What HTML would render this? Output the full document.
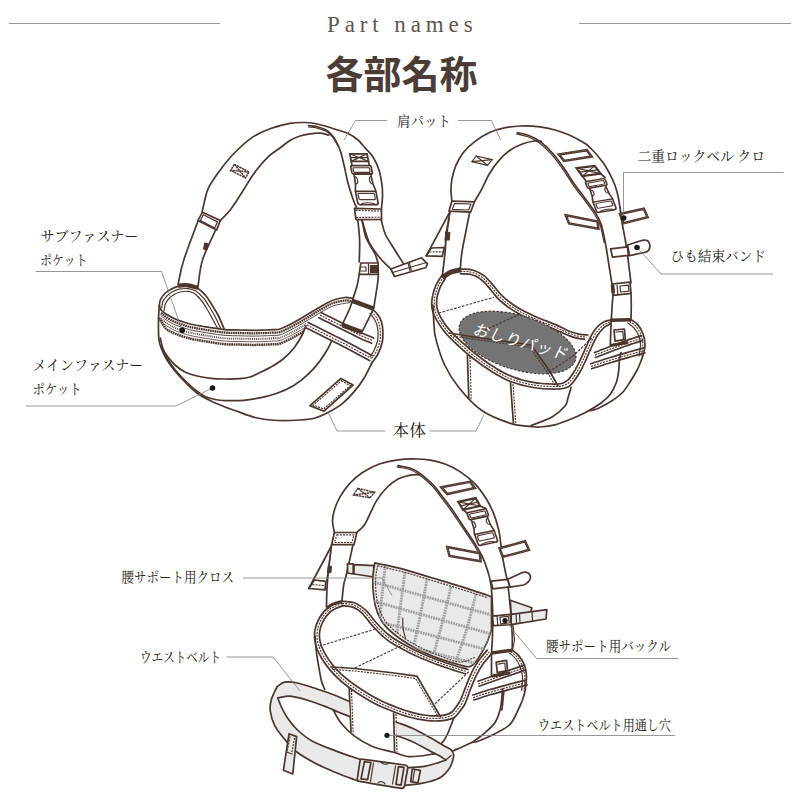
<!DOCTYPE html>
<html><head><meta charset="utf-8"><title>Part names</title>
<style>
html,body{margin:0;padding:0;background:#fff;font-family:"Liberation Sans",sans-serif;}
svg{display:block}
</style></head><body>
<svg width="800" height="801" viewBox="0 0 800 801">
<rect width="800" height="801" fill="#fff"/>
<style>
.l{fill:none;stroke:#4b352d;stroke-width:1.7;stroke-linecap:round;stroke-linejoin:round}
.t{fill:none;stroke:#4b352d;stroke-width:1.2;stroke-linecap:round;stroke-linejoin:round}
.w{fill:#fff;stroke:#4b352d;stroke-width:1.7;stroke-linecap:round;stroke-linejoin:round}
.g{fill:#e9e9e9;stroke:#4b352d;stroke-width:1.7;stroke-linecap:round;stroke-linejoin:round}
.d{fill:none;stroke:#4b352d;stroke-width:1.15;stroke-dasharray:2 1.1}
.k{fill:none;stroke:#4b352d;stroke-width:2.6;stroke-linecap:butt}
.q{fill:none;stroke:#a0a0a0;stroke-width:2.9;stroke-dasharray:1.8 0.8}
</style>
<g><path class="l" d="M202.1 212.2C202.9 208.8 203.4 205.8 204.4 201.9C205.4 198 205.9 193.4 208.1 188.8C210.3 184.1 213.4 179.4 217.5 173.8C221.6 168.1 226.9 160.9 232.5 155C238.1 149.1 245 142.5 251.2 138.1C257.5 133.7 263.5 131.2 270 128.8C276.5 126.3 284.2 124.3 290 123.3C295.8 122.3 300.8 122.5 305 122.5C309.2 122.5 311.7 122.9 315 123.5C318.3 124.1 321.5 125 325 126C328.5 127 332.2 128.2 336 129.5C339.8 130.8 344.3 131.8 348 133.5C351.7 135.2 355 137.4 358 140C361 142.6 363.5 146.2 366 149C368.5 151.8 370.8 153.5 373 157C375.2 160.5 377.5 165.3 379 170C380.5 174.7 381.4 180.5 382 185C382.6 189.5 382.6 193.2 382.5 197C382.4 200.8 381.8 204.3 381.5 208"/>
<path class="l" d="M220.3 220.6C223.7 216.9 227 214.1 230.6 209.4C234.2 204.7 237.8 198.8 241.9 192.5C246 186.2 250.6 177.8 255 171.9C259.4 166 263.9 160.9 268.1 156.9C272.3 152.9 276.4 150.7 280 148C283.6 145.3 286.7 142.5 290 140.5C293.3 138.5 296.7 137.1 300 136C303.3 134.9 306.7 134.3 310 133.8C313.3 133.3 316.8 133 320 133.2C323.2 133.4 326 134.4 329 135"/>
<path class="l" d="M308.5 125.5C311.7 126 315.2 126.3 318 127C320.8 127.7 323 128.5 325 129.5C327 130.5 328.5 131.6 330 133C331.5 134.4 332.7 136 334 138C335.3 140 336.8 142.5 338 145C339.2 147.5 340 149.7 341 153C342 156.3 342.8 160 344 165C345.2 170 346.5 177.3 348 183C349.5 188.7 351.6 194.9 353 199C354.4 203.1 355.3 204.7 356.5 207.5"/>
<path class="t" d="M308.7 126.8C311.9 127.3 315.4 127.6 318.2 128.3C320.9 129 323.2 129.8 325.2 130.8C327.2 131.8 328.7 132.9 330.2 134.3C331.7 135.7 332.9 137.3 334.2 139.3C335.5 141.3 337.6 145.4 338.2 146.3C338.8 147.2 338.1 145.4 338 145"/>
<path class="l" d="M197.8 220.6L202.5 212.2L220.3 220.6L216.6 230Z"/>
<path class="t" d="M200.3 220.6L203.4 214.7L217.5 221.9L214.7 228.1Z"/>
<path class="l" d="M197.8 221.5C193.1 234.3 187.1 249.5 183.8 260C180.4 270.5 179.9 276.5 178 284.7"/>
<path class="l" d="M215.6 230C211.2 240 205.5 250.4 202.5 260C199.5 269.6 199.4 278.3 197.8 287.5"/>
<path class="t" style="fill:#4b352d" d="M204.8 243L207.8 243.8L206.6 249.8L203.6 249Z"/>
<path class="d" style="stroke-width:1.5;stroke-dasharray:2.2 0.6" d="M234.4 164.4L249 171.9L245.6 177.9L230.6 170.4Z"/>
<path class="d" style="stroke-width:1.5;stroke-dasharray:2.2 0.6" d="M234.4 164.4L245.6 177.9"/>
<path class="d" style="stroke-width:1.5;stroke-dasharray:2.2 0.6" d="M249 171.9L230.6 170.4"/>
<g transform="translate(358.3 153.3) rotate(0) skewX(11) scale(0.99 0.99)"><path class="k" style="stroke-width:1.8" d="M-8.7 0.5H8.7V8.2H-8.7Z"/><path class="t" d="M-8.7 0.5L8.7 8.2M8.7 0.5L-8.7 8.2M-8.7 4.3H8.7"/><path class="l" d="M-8.7 8.2V13M8.7 8.2V13"/><rect class="w" x="-10.3" y="12.5" width="20.6" height="8.6" rx="1.6"/><rect class="t" x="-8.3" y="14.6" width="16.6" height="4.6" rx="0.8"/><path class="w" d="M-8.6 21.1C-8.2 24 -8.8 27 -8.8 30C-8.8 34 -10.3 35 -10.3 38.5V49.5C-10.3 51 -9.5 52 -8 52H8C9.5 52 10.3 51 10.3 49.5V38.5C10.3 35 8.8 34 8.8 30C8.8 27 8.2 24 8.6 21.1Z"/><path class="t" d="M-8.6 23.5C-6.5 23.5 -6 25 -6 27.5C-6 30 -6.8 31 -8.8 31M8.6 23.5C6.5 23.5 6 25 6 27.5C6 30 6.8 31 8.8 31"/><path class="l" d="M-10.3 38.5H10.3"/><rect class="t" x="-8.2" y="40.6" width="16.4" height="6.2" rx="0.8"/><path class="t" d="M-8 52C-5 49.3 5 49.3 8 52"/></g>
<path class="w" d="M354.5 208.3L381.5 209L381.5 219.3L356 219.7Z"/>
<path class="d" d="M355.5 210.4L381 211"/>
<path class="d" d="M356 217.5L381 217.2"/>
<path class="l" d="M357.8 219.7C358.4 226.5 359.4 232.9 359.6 240C359.9 247.1 359.4 254.7 359.2 262"/>
<path class="l" d="M359.2 274.5C358.5 278.3 358 282 357 286C356 290 354.3 294.5 353 298.8"/>
<path class="l" d="M362 220C363.3 225.8 363.8 231.8 366 237.5C368.2 243.2 373 249.8 375 254C377 258.2 377 260 378 263"/>
<path class="l" d="M378.3 274.5C378 277.7 378.3 278.4 377.5 284C376.7 289.6 375 300 373.8 308"/>
<path class="l" d="M362 220C364.3 227.3 366 235.7 369 242C372 248.3 376.4 253.5 380 258C383.6 262.5 387.2 265.3 390.8 269"/>
<path class="l" d="M381 219.3C382.5 224.4 383.2 229.5 385.5 234.5C387.8 239.5 391.6 244.7 394.5 249.5C397.4 254.3 400.3 258.6 403.2 263.2"/>
<path class="l" d="M390.8 269L421.5 257.8L427.5 263.8L426 267.5L394.5 276.5Z"/>
<path class="t" d="M408 263L410 270.8"/>
<path class="t" d="M409.3 262.6L411.3 270.3"/>
<path class="t" d="M392.5 272.5L409.5 267.5"/>
<path class="t" d="M411 267L426.8 262.5"/>
<path class="w" d="M360.8 263L378 263L378.3 274.3L359.2 274.3Z"/>
<path class="t" d="M361.5 267L366 267L366 271L361 271"/>
<path class="t" d="M368.5 264L368.5 274"/>
<path class="t" style="fill:#4b352d" d="M370.5 265.5L377.5 265.5L377.5 272.5L370.5 272.5Z"/><path class="l" d="M159.3 305.5C159.7 303.5 159.6 301.5 160.5 299.5C161.4 297.5 163.3 295.2 165 293.5C166.7 291.8 168.3 290.7 170.5 289.5C172.7 288.3 175.1 286.9 178 286.3C180.9 285.7 184.7 285.4 188 285.8C191.3 286.2 194.8 286.8 197.8 288.5C200.8 290.2 203.6 293.2 206 296C208.4 298.8 210 301.8 212 305C214 308.2 216 311.1 218 315C220 318.9 222 324 224 328.5"/>
<path class="t" d="M161.6 308C162.1 305.8 162.1 303.3 163 301.3C163.9 299.3 165.4 297.4 167 295.8C168.6 294.2 170.5 292.9 172.5 291.8C174.5 290.7 176.4 289.7 179 289.2C181.6 288.7 185.2 288.3 188 288.6C190.8 288.9 193.2 289.4 195.8 291C198.4 292.6 201.2 295.3 203.5 298C205.8 300.7 207.6 303.9 209.5 307C211.4 310.1 213.2 313 215 316.5C216.8 320 218.7 324.2 220.5 328"/>
<path class="t" d="M164 311C164.5 308.5 164.6 305.7 165.5 303.5C166.4 301.3 168 299.5 169.5 298C171 296.5 172.8 295.3 174.5 294.3C176.2 293.3 177.8 292.5 180 292C182.2 291.5 185.7 291.1 188 291.3C190.3 291.5 191.8 291.9 194 293.3C196.2 294.8 198.8 297.4 201 300C203.2 302.6 205.2 306 207 309C208.8 312 210.3 314.9 212 318C213.7 321.1 215.5 324.5 217.2 327.7"/>
<path class="k" style="stroke-width:4.2" d="M178.3 285.6C181.5 285.5 184.7 284.9 188 285.3C191.3 285.7 194.7 287.1 198 288"/>
<path class="l" d="M159.3 305.5C159.9 307 159.9 308.6 161 310C162.1 311.4 163.7 312.5 166 314C168.3 315.5 171.8 317.6 175 319C178.2 320.4 181.7 321.5 185 322.5C188.3 323.5 190.8 324.2 195 325C199.2 325.8 205 326.7 210 327.5C215 328.3 220 329.2 225 329.6C230 330 235.3 329.9 240 330C244.7 330.1 248.8 330.3 253 330.3C257.2 330.3 261.7 330.1 265 330C268.3 329.9 270.5 329.8 273 329.6C275.5 329.4 277.2 329.9 280 329C282.8 328.1 286.7 326.2 290 324.5C293.3 322.8 296.7 320.9 300 319C303.3 317.1 306.7 315 310 313C313.3 311 317 308.8 320 307C323 305.2 325.5 303.8 328 302.5C330.5 301.2 332.2 300.3 335 299.5C337.8 298.7 342.1 297.7 345 297.5C347.9 297.3 350 298 352.5 298.2"/>
<path class="k" style="stroke-width:2.3;stroke-dasharray:1.7 0.6" d="M161 313C162.7 314.3 163.7 315.5 166 317C168.3 318.5 171.8 320.6 175 322C178.2 323.4 181.7 324.5 185 325.5C188.3 326.5 190.8 327.2 195 328C199.2 328.8 205 329.7 210 330.5C215 331.3 220 332.2 225 332.6C230 333 235.3 332.9 240 333C244.7 333.1 248.8 333.3 253 333.3C257.2 333.3 261.7 333.1 265 333C268.3 332.9 270.5 332.8 273 332.6C275.5 332.4 277.2 332.9 280 332C282.8 331.1 286.7 329.2 290 327.5C293.3 325.8 296.7 323.9 300 322C303.3 320.1 306.7 318 310 316C313.3 314 317 311.8 320 310C323 308.2 325.5 306.8 328 305.5C330.5 304.2 332.2 303.3 335 302.5C337.8 301.7 342.1 300.7 345 300.5C347.9 300.3 350 301 352.5 301.2"/>
<path class="t" style="stroke-width:0.9" d="M161 315.8C162.7 317.1 163.7 318.3 166 319.8C168.3 321.3 171.8 323.4 175 324.8C178.2 326.2 181.7 327.3 185 328.3C188.3 329.3 190.8 330 195 330.8C199.2 331.6 205 332.5 210 333.3C215 334.1 220 335 225 335.4C230 335.8 235.3 335.7 240 335.8C244.7 335.9 248.8 336.1 253 336.1C257.2 336.1 261.7 335.9 265 335.8C268.3 335.7 270.5 335.6 273 335.4C275.5 335.2 277.2 335.7 280 334.8C282.8 333.9 286.7 332 290 330.3C293.3 328.6 296.7 326.7 300 324.8C303.3 322.9 306.7 320.8 310 318.8C313.3 316.8 317 314.6 320 312.8C323 311.1 325.5 309.6 328 308.3C330.5 307.1 332.2 306.1 335 305.3C337.8 304.5 342.5 303.8 345 303.3C347.5 302.9 348.3 302.8 350 302.6"/>
<clipPath id="cz1"><path d="M150 300H306V325.75L301.6 336L293.75 348.25L282.5 359.5L271 367H150Z"/></clipPath><g clip-path="url(#cz1)">
<path class="d" style="stroke-width:1.9;stroke-dasharray:0.9 1" d="M161 318.7C162.7 320 163.7 321.2 166 322.7C168.3 324.2 171.8 326.3 175 327.7C178.2 329.1 181.7 330.2 185 331.2C188.3 332.2 190.8 332.9 195 333.7C199.2 334.5 205 335.4 210 336.2C215 337 220 337.9 225 338.3C230 338.7 235.3 338.6 240 338.7C244.7 338.8 248.8 339 253 339C257.2 339 261.7 338.8 265 338.7C268.3 338.6 270.5 338.5 273 338.3C275.5 338.1 277.2 338.6 280 337.7C282.8 336.8 286.7 334.9 290 333.2C293.3 331.5 296.7 329.6 300 327.7C303.3 325.8 306.7 323.7 310 321.7C313.3 319.7 316.7 317.7 320 315.7"/>
<path class="t" style="stroke-width:0.8" d="M161 321.5C162.7 322.8 163.7 324 166 325.5C168.3 327 171.8 329.1 175 330.5C178.2 331.9 181.7 333 185 334C188.3 335 190.8 335.7 195 336.5C199.2 337.3 205 338.2 210 339C215 339.8 220 340.7 225 341.1C230 341.5 235.3 341.4 240 341.5C244.7 341.6 248.8 341.8 253 341.8C257.2 341.8 261.7 341.6 265 341.5C268.3 341.4 270.5 341.3 273 341.1C275.5 340.9 277.2 341.4 280 340.5C282.8 339.6 286.7 337.7 290 336C293.3 334.3 296.7 332.4 300 330.5C303.3 328.6 306.7 326.5 310 324.5C313.3 322.5 316.7 320.5 320 318.5"/>
<path class="k" style="stroke-width:2.5;stroke-dasharray:1.7 0.6" d="M159 318C161.3 321.5 163.3 326 166 328.6C168.7 331.2 171.8 332.2 175 333.6C178.2 335 181.7 336.1 185 337.1C188.3 338.1 190.8 338.8 195 339.6C199.2 340.4 205 341.3 210 342.1C215 342.9 220 343.8 225 344.2C230 344.6 235.3 344.5 240 344.6C244.7 344.7 248.8 344.9 253 344.9C257.2 344.9 261.7 344.7 265 344.6C268.3 344.5 270.5 344.4 273 344.2C275.5 344 277.2 344.5 280 343.6C282.8 342.8 286.7 340.8 290 339.1C293.3 337.4 296.7 335.5 300 333.6C303.3 331.7 306.7 329.6 310 327.6C313.3 325.6 316.7 323.6 320 321.6"/>
</g>
<path class="l" d="M321 312.5C325.7 314.8 330.2 317.1 335 319.5C339.8 321.9 345.5 324.8 350 327C354.5 329.2 358 331.2 362 333C366 334.8 369.8 336.3 373.8 338"/>
<path class="l" d="M318.8 317.7C323.5 320 328 322.3 332.8 324.7C337.6 327.1 343.3 329.9 347.8 332.2C352.3 334.4 355.8 336.4 359.8 338.2C363.8 340 367.6 341.5 371.6 343.2"/>
<path class="d" d="M319.9 315.1C324.6 317.4 329.1 319.7 333.9 322.1C338.8 324.5 344.4 327.4 348.9 329.6C353.4 331.9 357 333.8 360.9 335.6C364.9 337.4 368.8 338.9 372.7 340.6"/>
<path class="l" d="M308 322.5C313.7 325.3 318.8 327.9 325 331C331.2 334.1 339.2 338 345 341C350.8 344 355.5 346.6 360 349C364.5 351.4 368 353.3 372 355.5"/>
<path class="l" d="M305.8 327.7C311.5 330.5 316.6 333.1 322.8 336.2C329 339.3 337 343.2 342.8 346.2C348.6 349.2 353.3 351.8 357.8 354.2C362.3 356.6 365.8 358.5 369.8 360.7"/>
<path class="d" d="M306.9 325.1C312.6 327.9 317.8 330.5 323.9 333.6C330.1 336.7 338.1 340.6 343.9 343.6C349.8 346.6 354.4 349.2 358.9 351.6C363.4 354 366.9 355.9 370.9 358.1"/>
<path class="l" d="M353 298.8C352 301.8 351.2 304.9 350 308C348.8 311.1 346.9 314.7 345.6 317.5C344.3 320.3 343.2 322.5 342 325"/>
<path class="l" d="M373.8 308C372.5 310.7 371.3 313.3 370 316C368.7 318.7 367.2 321.5 366 324C364.8 326.5 363.7 328.7 362.5 331"/>
<path class="k" style="stroke-width:4.6" d="M352.3 300.8L372.8 308.3"/>
<path class="k" style="stroke-width:4.6" d="M342.3 325L362.3 332.3"/>
<path class="l" d="M373 309.5C374.7 311.3 376.6 312.9 378 315C379.4 317.1 380.7 319.5 381.5 322C382.3 324.5 382.7 326.7 382.8 330C382.9 333.3 383.1 338 382.3 342C381.5 346 379.7 350.6 378 354C376.3 357.4 374 359.7 372 362.5"/>
<path class="d" d="M371.5 311.5C373 313.3 374.8 315 376 317C377.2 319 378.3 321.2 379 323.5C379.7 325.8 380.2 328 380.3 331C380.4 334 380.5 338 379.8 341.5C379.1 345 377.5 349.1 376 352C374.5 354.9 372.7 356.7 371 359"/>
<path class="t" d="M370 313.5C371.3 315.2 372.9 316.7 374 318.5C375.1 320.3 376.1 322.3 376.8 324.5C377.5 326.7 377.9 328.8 378 331.5C378.1 334.2 378.2 337.8 377.5 341C376.8 344.2 375.2 347.9 374 350.5C372.8 353.1 371.3 354.5 370 356.5"/>
<path class="l" d="M159.3 305.5C159 310.3 158.6 314.2 158.5 320C158.4 325.8 158.4 335 159 340C159.6 345 160.7 346.7 162 350C163.3 353.3 164.8 356.5 167 360C169.2 363.5 172 367.3 175 371C178 374.7 181.3 378.3 185 382C188.7 385.7 192.7 389.8 197 393C201.3 396.2 206.3 398.7 211 401C215.7 403.3 221 405.4 225 407C229 408.6 230 408.8 235 410.5C240 412.2 247.9 415.8 255 417.5C262.1 419.2 270 420.1 277.5 420.5C285 420.9 293.8 420.4 300 420C306.2 419.6 310.5 419.2 315 418C319.5 416.8 322.5 415.4 327 413C331.5 410.6 337.3 407.5 342 403.8C346.7 400 351.3 395 355 390.6C358.7 386.2 361.6 382.2 364.4 377.5C367.2 372.8 369.5 367.5 372 362.5"/>
<path class="l" d="M160.3 338C161.2 341.7 161.7 345.8 163 349C164.3 352.2 166 354.3 168 357C170 359.7 172.2 362.5 175 365C177.8 367.5 181.3 370.2 185 372C188.7 373.8 192.7 374.9 197 376C201.3 377.1 206.3 377.8 211 378.3C215.7 378.8 220.2 378.9 225 379C229.8 379.1 235.8 378.9 240 378.6C244.2 378.3 246.7 378 250 377C253.3 376 256.5 374.2 260 372.5C263.5 370.8 267.2 369.2 271 367C274.8 364.8 278.7 362.6 282.5 359.5C286.3 356.4 290.6 352.2 293.8 348.2C296.9 344.3 299.6 339.8 301.6 336C303.6 332.2 304.5 329.2 306 325.8"/>
<path class="l" d="M161.5 346C163.2 349.7 164.4 353.2 166.5 357C168.6 360.8 171.1 364.8 174 368.5C176.9 372.2 180.3 375.8 184 379.5C187.7 383.2 192.5 387.7 196 390.5C199.5 393.3 201.8 395 205 396.5C208.2 398 211.7 398.8 215 399.5C218.3 400.2 220.2 400.5 225 400.6C229.8 400.7 237.9 400.8 243.8 400.3C249.6 399.8 254.5 398.9 260 397.8C265.5 396.6 271.4 395.3 277 393.2C282.6 391.2 288.7 388.4 293.8 385.4C298.8 382.4 303.1 379 307.2 375.2C311.4 371.5 315.1 367.2 318.5 362.9C321.9 358.6 325.2 353.1 327.5 349.4C329.8 345.6 330.5 343.4 332 340.4"/>
<path class="l" d="M341 378.4L353 385L324 411.2L310 405.6Z"/>
<path class="d" d="M341.3 380.8L350.3 385.6L323.6 409L313.3 405Z"/></g>

<g><path class="l" d="M451.9 201C451.6 197.5 451 194.2 451 190.6C451 187 451.1 183.5 451.9 179.4C452.7 175.3 453.8 170.7 455.6 166.2C457.5 161.8 459.9 157.1 463 153C466.1 148.9 470 145.3 474.4 141.9C478.8 138.5 484.4 134.8 489.4 132.5C494.4 130.2 499.1 128.9 504.4 127.8C509.7 126.7 515.3 126.2 521.2 126C527.2 125.8 534.4 126.2 540 126.9C545.6 127.6 550.3 128.7 555 130C559.7 131.3 563.8 132.8 568 134.5C572.2 136.2 576.3 138.3 580 140.5C583.7 142.7 586.2 143.8 590 147.5C593.8 151.2 599.2 157.2 603 162.5C606.8 167.8 610.1 174.4 612.5 179.4C614.9 184.4 616 187.8 617.2 192.5C618.5 197.2 619.2 202.5 620 207.5C620.8 212.5 621.1 217.1 622 222.5C622.9 227.9 624.3 234 625.3 240C626.3 246 627 251.6 628 258.8C629 265.9 630 274.9 631 283"/>
<path class="l" d="M474.4 201.9C476.9 197.5 479.4 193.4 481.9 188.8C484.4 184.1 486.6 178.4 489.4 173.8C492.2 169.1 495.3 164.5 498.8 160.6C502.2 156.7 506 153.1 510 150.3C514 147.5 518.9 145.3 523 143.8C527.1 142.2 531.3 141.4 534.4 141C537.5 140.6 539.1 141.2 541.5 141.3"/>
<path class="l" d="M517.5 132.6C521.2 133.6 525 134 528.8 135.5C532.5 137 536.1 138.6 540 141.4C543.9 144.2 548 148.1 552 152.5C556 156.9 559.9 162.6 563.8 168C567.6 173.4 571.2 179.7 575 185C578.8 190.3 582.8 195.3 586.2 200C589.7 204.7 593.1 208.9 595.6 213C598.1 217.1 599.7 219.7 601.2 224.4C602.8 229.1 604.1 237 605 241.2C605.9 245.5 605.9 245.5 606.6 250C607.3 254.5 608.5 262.3 609.4 268C610.3 273.7 611.1 278.7 612 284"/>
<path class="t" d="M516.6 133.9C520.4 134.9 524.1 135.3 527.9 136.8C531.6 138.3 535.2 139.9 539.1 142.7C543 145.5 547.1 149.4 551.1 153.8C555.1 158.2 559 163.9 562.9 169.3C566.7 174.7 570.4 181 574.1 186.3C577.9 191.6 581.9 196.6 585.4 201.3C588.8 206 592.2 210.2 594.7 214.3C597.2 218.4 598.8 221 600.4 225.7C601.9 230.4 602.9 236.9 604.1 242.6"/>
<path class="l" d="M451.9 201L474.4 201.9L470.6 212.2L449 211.2Z"/>
<path class="t" d="M454.7 203.3L471 204L468.6 210L452.3 209.4Z"/>
<path class="l" d="M450 212C448.7 219.7 446.8 228.7 446 235C445.2 241.3 445.9 243.4 445.3 250C444.7 256.6 443.4 266.5 442.5 274.7"/>
<path class="l" d="M469.7 212.2C467.8 221.8 465.4 233.9 464 241C462.6 248.1 462.1 250.3 461.5 255C460.9 259.7 460.7 264.3 460.3 269"/>
<path class="t" style="fill:#4b352d" d="M445.8 231.9L449.8 232.5L449.2 240L445.3 239.8Z"/>
<path class="l" d="M449.3 213L426.2 255.8"/>
<path class="t" d="M449.3 218L445 247.5"/>
<path class="l" d="M426.2 255.8L431.2 248L444.4 247.5L442.2 256.3Z"/>
<path class="d" d="M429.5 252L443.3 251.8"/>
<path class="t" d="M476.2 156L492.2 159.7L487.5 165.3L472 161.6Z"/>
<path class="t" d="M476.2 156L487.5 165.3"/>
<path class="t" d="M492.2 159.7L472 161.6"/>
<path class="l" style="stroke-width:2.5;stroke-linejoin:miter" d="M559 154.6L586.8 150.2L591.6 156.6L564 160.9Z"/>
<path class="d" style="stroke:#9c8a82;stroke-width:0.5;stroke-dasharray:1.4 1.2" d="M559 154.6L586.8 150.2L591.6 156.6L564 160.9Z"/>
<path class="w" style="stroke-width:2.5;stroke-linejoin:miter" d="M620 214L643.8 208.8L647.6 217.2L623.4 223.2Z"/>
<path class="d" style="stroke:#9c8a82;stroke-width:0.5;stroke-dasharray:1.4 1.2" d="M620 214L643.8 208.8L647.6 217.2L623.4 223.2Z"/>
<path class="w" style="stroke-width:2.5;stroke-linejoin:miter" d="M565.8 215.3L597.6 221.5L598.4 228.8L569 223.5Z"/>
<path class="d" style="stroke:#9c8a82;stroke-width:0.5;stroke-dasharray:1.4 1.2" d="M565.8 215.3L597.6 221.5L598.4 228.8L569 223.5Z"/>
<path class="w" d="M610.6 248.8L627.5 246.9L628.4 255.3L612.5 257.2Z"/>
<path class="w" d="M627.5 245L642.5 240.3C646 239.5 649 240.5 649.7 244.5C650.4 248.5 648.5 251.5 644.4 252.5L629.4 255.6Z"/>
<path class="t" d="M627.5 245L629.4 255.6"/>
<path class="k" style="stroke-width:2.2;stroke-linejoin:miter" d="M576.6 168.2L594.7 165.9L600.6 173.7L582.3 176.1Z"/>
<path class="t" d="M576.6 168.2L600.6 173.7"/>
<path class="t" d="M594.7 165.9L582.3 176.1"/>
<path class="t" d="M579.5 172.1L597.7 169.8"/>
<path class="l" d="M582.3 176.1L586 181"/>
<path class="l" d="M600.6 173.7L605 177.5"/>
<g transform="translate(591.2 170.3) rotate(-9.8) skewX(11.2) scale(0.96 0.824)"><rect class="w" x="-10.3" y="12.5" width="20.6" height="8.6" rx="1.6"/><rect class="t" x="-8.3" y="14.6" width="16.6" height="4.6" rx="0.8"/><path class="w" d="M-8.6 21.1C-8.2 24 -8.8 27 -8.8 30C-8.8 34 -10.3 35 -10.3 38.5V49.5C-10.3 51 -9.5 52 -8 52H8C9.5 52 10.3 51 10.3 49.5V38.5C10.3 35 8.8 34 8.8 30C8.8 27 8.2 24 8.6 21.1Z"/><path class="t" d="M-8.6 23.5C-6.5 23.5 -6 25 -6 27.5C-6 30 -6.8 31 -8.8 31M8.6 23.5C6.5 23.5 6 25 6 27.5C6 30 6.8 31 8.8 31"/><path class="l" d="M-10.3 38.5H10.3"/><rect class="t" x="-8.2" y="40.6" width="16.4" height="6.2" rx="0.8"/><path class="t" d="M-8 52C-5 49.3 5 49.3 8 52"/></g>
<path class="w" d="M612.2 284L630 282.2L631 293.4L613 295.3Z"/>
<path class="t" style="fill:#4b352d" d="M611.3 285L613.8 284.8L614.4 292.8L612 293Z"/>
<path class="t" d="M617 285L617.8 294"/>
<path class="t" d="M620 286L628.5 285.2L629 291.2L620.6 292Z"/>
<path class="l" d="M613 295.3C612.7 298.5 612.5 300.8 612.2 305C611.9 309.2 611.6 313.9 611.2 320.6C610.9 327.3 610.6 336.9 610.3 345"/>
<path class="l" d="M631 293.4C631.1 297.3 631.3 300.7 631.3 305C631.3 309.3 631.1 314.3 631 319"/>
<path class="k" style="stroke-width:3.6" d="M610.3 320.2L631 319.7"/>
<path class="k" style="stroke-width:3" d="M610.3 345.5L628 342.5"/>
<path class="l" d="M614 330L624.4 329L625.3 339.4L615 341.2Z"/>
<path class="t" d="M616 332L622.8 331.3L623.5 339.6"/>
<path class="k" style="stroke-width:5" d="M442.3 277.5C445 275.8 447.4 273.6 450.5 272.3C453.6 271 457.4 270.6 460.8 269.8"/>
<path class="l" d="M460.3 269C464.4 269.3 468.6 268.9 472.5 270C476.4 271.1 480.3 273.1 483.8 275.6C487.2 278.1 489.9 281.6 493 285C496.1 288.4 498.4 292.5 502.5 296.2C506.6 300 511.9 304.1 517.5 307.5C523.1 310.9 530 314.1 536.2 316.9C542.5 319.7 549.4 322 555 324.4C560.6 326.8 565.8 329.9 570 331.5C574.2 333.1 577 333.7 580 334.3C583 334.9 585.3 334.8 588 335"/>
<path class="l" d="M460.3 273.7C462.1 273.8 463.9 273.8 465.6 273.9C467.4 274 469.2 274.1 470.9 274.5C472.7 274.9 474.4 275.6 475.9 276.3C477.5 277.1 479.1 278.1 480.5 279.1C481.9 280.2 483.3 281.4 484.5 282.6C485.8 283.9 486.9 285.3 488.1 286.6C489.3 288 490.4 289.3 491.6 290.7C492.7 292.1 493.7 293.5 494.8 294.9C495.9 296.3 497.1 297.7 498.3 298.9C499.6 300.2 500.9 301.4 502.3 302.5C503.7 303.7 505.1 304.8 506.5 305.8C507.9 306.9 509.4 307.9 510.8 308.9C512.3 309.9 513.8 310.9 515.3 311.8C516.9 312.7 518.4 313.6 520 314.4C521.6 315.2 523.2 316 524.8 316.8C526.4 317.6 528 318.3 529.6 319.1C531.3 319.8 532.9 320.5 534.5 321.2C536.2 322 537.8 322.6 539.5 323.3C541.1 324 542.8 324.6 544.4 325.3C546.1 325.9 547.8 326.5 549.4 327.2C551.1 327.8 552.7 328.5 554.4 329.2C556 329.9 557.6 330.6 559.3 331.4C560.9 332.1 562.5 332.8 564.1 333.6C565.8 334.3 567.4 335 569.1 335.6C570.7 336.3 572.4 336.9 574.1 337.4C575.8 337.9 577.5 338.3 579.3 338.7C581 339 582.8 339.1 584.6 339.2"/>
<path class="d" d="M460.3 271.3C462.1 271.4 463.9 271.4 465.7 271.5C467.5 271.6 469.3 271.7 471.1 272.1C472.8 272.5 474.5 273.1 476.2 273.8C477.8 274.6 479.4 275.5 480.9 276.5C482.4 277.5 483.8 278.6 485.1 279.9C486.4 281.1 487.6 282.5 488.8 283.8C490 285.1 491.2 286.5 492.4 287.9C493.5 289.3 494.6 290.7 495.7 292.1C496.8 293.5 497.9 295 499.2 296.3C500.4 297.6 501.8 298.8 503.1 300C504.5 301.2 505.9 302.3 507.3 303.4C508.8 304.5 510.2 305.6 511.7 306.6C513.2 307.6 514.7 308.6 516.2 309.5C517.8 310.4 519.4 311.3 521 312.2C522.5 313 524.2 313.8 525.8 314.6C527.4 315.4 529 316.2 530.7 316.9C532.3 317.7 534 318.4 535.6 319.1C537.3 319.9 538.9 320.6 540.6 321.2C542.3 321.9 544 322.5 545.7 323.2C547.3 323.8 549 324.5 550.7 325.1C552.4 325.8 554 326.5 555.7 327.2C557.3 328 559 328.7 560.6 329.5C562.2 330.3 563.8 331.1 565.5 331.8C567.1 332.5 568.8 333.3 570.5 333.9C572.2 334.5 573.9 335.1 575.6 335.5C577.4 336 579.2 336.4 580.9 336.6C582.7 336.9 584.5 336.9 586.3 337.1"/>
<path class="l" d="M442.5 274.7C440.3 278.1 437.7 281.1 436 285C434.3 288.9 432.8 293.9 432.2 298C431.6 302.1 431.4 305.6 432.2 309.4C433 313.2 434.6 316.5 436.9 320.6C439.2 324.7 442.8 329.7 446.2 333.8C449.7 337.8 453.1 341 457.5 345C461.9 349 466.9 353.6 472.5 358C478.1 362.4 484.9 367.3 491.2 371.2C497.6 375.2 503.5 378.8 510.5 381.5C517.5 384.2 525.8 386.2 533.5 387.5C541.2 388.8 550.8 389.1 556.5 389C562.2 388.9 565.1 388.3 568 387C570.9 385.7 572 383.5 574 381C576 378.5 578.2 375.2 580 372C581.8 368.8 583.1 366.2 585 362C586.9 357.8 589.7 351.1 591.6 347C593.5 342.9 594.4 340.6 596.2 337.5C598.1 334.4 600.7 330.8 603 328.5C605.3 326.2 607.9 325.4 610.3 323.8"/>
<path class="l" d="M445.1 278.8C443.9 280.8 442.5 282.7 441.5 284.7C440.4 286.7 439.5 288.9 438.8 291C438 293.2 437.4 295.4 437 297.7C436.7 299.9 436.5 302.3 436.6 304.6C436.8 306.8 437.3 309.1 437.9 311.3C438.6 313.5 439.7 315.5 440.8 317.6C441.9 319.6 443.2 321.5 444.5 323.4C445.8 325.3 447.2 327.1 448.7 328.9C450.2 330.6 451.7 332.3 453.3 334C454.9 335.7 456.6 337.2 458.3 338.8C459.9 340.4 461.7 341.9 463.4 343.4C465.1 345 466.8 346.5 468.5 348C470.3 349.6 472 351 473.8 352.5C475.6 353.9 477.4 355.3 479.2 356.7C481.1 358.1 482.9 359.5 484.8 360.8C486.7 362.2 488.6 363.5 490.5 364.8C492.4 366 494.3 367.3 496.3 368.4C498.3 369.6 500.2 370.8 502.3 371.9C504.3 373 506.3 374.1 508.4 375C510.5 376 512.7 376.8 514.8 377.6C517 378.4 519.2 379.1 521.4 379.7C523.6 380.3 525.9 380.9 528.1 381.4C530.3 381.9 532.6 382.4 534.9 382.7C537.1 383.1 539.4 383.3 541.7 383.5C544 383.7 546.3 383.8 548.6 383.9C550.9 384 553.2 384.2 555.5 384.1C557.8 383.9 560.3 384 562.4 383.3C564.4 382.6 566.4 381.3 568.1 379.9C569.7 378.4 571 376.4 572.3 374.5C573.6 372.6 574.8 370.6 575.9 368.6C577 366.6 578.1 364.6 579.1 362.5C580.1 360.4 581.1 358.3 582 356.2C583 354.2 583.9 352 584.8 349.9C585.8 347.8 586.7 345.7 587.6 343.6C588.6 341.5 589.4 339.4 590.4 337.3C591.4 335.3 592.6 333.2 593.9 331.3C595.2 329.5 596.6 327.6 598.2 326C599.9 324.4 601.7 323 603.7 322C605.8 321 608.1 320.6 610.3 320"/>
<path class="d" d="M443.8 276.7C442.5 278.7 441.1 280.6 439.9 282.7C438.8 284.7 437.8 286.9 436.9 289C436.1 291.2 435.4 293.5 435 295.8C434.5 298.1 434.2 300.5 434.2 302.8C434.2 305.2 434.4 307.6 434.9 309.8C435.5 312.1 436.4 314.3 437.4 316.4C438.4 318.5 439.7 320.5 441 322.5C442.3 324.5 443.6 326.4 445.1 328.3C446.5 330.1 448 332 449.6 333.7C451.2 335.5 452.8 337.1 454.5 338.8C456.2 340.4 458 342 459.7 343.6C461.4 345.2 463.2 346.8 464.9 348.3C466.7 349.9 468.5 351.5 470.3 353C472.1 354.5 474 355.9 475.8 357.4C477.7 358.8 479.6 360.2 481.5 361.6C483.4 363 485.3 364.4 487.3 365.7C489.2 367 491.2 368.3 493.2 369.5C495.2 370.8 497.2 372 499.3 373.2C501.3 374.3 503.4 375.5 505.5 376.5C507.6 377.5 509.8 378.5 512 379.3C514.2 380.2 516.4 380.9 518.7 381.6C521 382.3 523.2 382.9 525.5 383.4C527.8 383.9 530.1 384.4 532.5 384.8C534.8 385.2 537.1 385.5 539.5 385.8C541.8 386 544.2 386.2 546.5 386.3C548.9 386.5 551.2 386.6 553.6 386.5C555.9 386.5 558.4 386.6 560.6 386.1C562.9 385.7 565.1 385 567.1 383.9C569 382.7 570.6 380.9 572.1 379.2C573.6 377.4 574.8 375.3 576.1 373.3C577.3 371.3 578.5 369.3 579.6 367.2C580.7 365.1 581.7 363 582.7 360.9C583.7 358.7 584.7 356.6 585.6 354.4C586.6 352.3 587.5 350.1 588.5 347.9C589.4 345.8 590.3 343.6 591.3 341.5C592.4 339.4 593.4 337.2 594.6 335.2C595.9 333.2 597.2 331.2 598.8 329.5C600.3 327.8 602 326.1 603.9 324.8C605.8 323.5 608.2 322.9 610.3 321.9"/>
<ellipse cx="517.5" cy="342.5" rx="60.5" ry="27" transform="rotate(17 517.5 342.5)" fill="#747474" stroke="#4b352d" stroke-width="1.2" stroke-dasharray="2.6 1.4"/>
<path class="d" style="stroke-width:1.1;stroke-dasharray:2.6 1.4" d="M438.8 313L494 297.2"/>
<path class="l" d="M449 333L474 337L531 345L549 370L558 386"/>
<path class="d" d="M450 335.5L474 339.3L529.5 347.2L547 371.5L555.5 386.5"/>
<path class="d" style="stroke-width:1.2;stroke-dasharray:2.6 1.4" d="M474 335L520 314"/>
<path class="d" style="stroke-width:1.2;stroke-dasharray:2.6 1.4" d="M549 372L573 356L592 338"/>
<path class="l" d="M433 305C433.3 311.7 433.5 319.4 434 325C434.5 330.6 434 332 435.8 338.6C437.5 345.2 440.6 356.4 444.4 364.5C448.2 372.6 452.5 379.8 458.8 387.5C465 395.2 473.1 404.5 481.8 410.5C490.4 416.5 502.4 420.7 510.5 423.4C518.6 426.1 525.7 425.9 530.6 426.5C535.5 427.1 535.9 427.3 540 427C544.1 426.7 550 426 555 424.8C560 423.5 565 421.5 570 419.5C575 417.5 580 415.4 585 412.8C590 410.1 595.8 406.9 600 403.8C604.2 400.6 607.8 397.6 610.5 394C613.2 390.4 615.1 386 616.5 382C617.9 378 618.2 373.7 618.8 370C619.2 366.3 619.1 362.9 619.5 360C619.9 357.1 620.5 355 621 352.5"/>
<path class="l" d="M467.4 355L468.8 398.5"/>
<path class="d" d="M470 357L471.2 400.5"/>
<path class="l" d="M510.5 383L513.4 423"/>
<path class="d" d="M513 384L515.8 424"/>
<path class="l" d="M631 319.7C633.2 321.3 635.5 322.1 637.5 324.4C639.5 326.7 641.8 330.3 643 333.8C644.2 337.2 645 341.3 645 345C645 348.7 643.8 352.5 642.8 356C641.8 359.5 640.1 363.3 639 366C637.9 368.7 637.5 369.3 636 372C634.5 374.7 632.2 378.6 630 382C627.8 385.4 625.5 389.4 622.5 392.5C619.5 395.6 615.8 398.2 612 400.8C608.2 403.2 603.2 405.9 600 407.5C596.8 409.1 594.7 409.7 593 410.2C591.3 410.7 590.9 410.5 589.8 410.6"/>
<path class="t" d="M628 323C630 324.7 632.2 325.9 634 328C635.8 330.1 637.6 332.7 638.7 335.5C639.8 338.3 640.5 341.6 640.5 345C640.5 348.4 639.5 352.3 639 356"/>
<path class="d" d="M629.5 321.3C631.6 322.9 633.9 324 635.8 326.2C637.7 328.4 639.7 331.5 640.9 334.6C642.1 337.7 642.8 341.4 642.8 345C642.8 348.6 641.6 352.3 641 356"/>
<path class="l" d="M594.4 352.5C599.6 350.5 604.9 348.4 610 346.5C615.1 344.6 619.8 342.8 625 341C630.2 339.2 635.8 337.4 641.2 335.6"/>
<path class="l" d="M595.4 357.5C600.6 355.5 605.9 353.4 611 351.5C616.1 349.6 620.8 347.8 626 346C631.2 344.2 636.8 342.4 642.2 340.6"/>
<path class="d" d="M594.9 355.1C600.1 353.1 605.4 351 610.5 349.1C615.6 347.2 620.2 345.4 625.5 343.6C630.7 341.8 636.3 340 641.7 338.2"/>
<path class="l" d="M590.6 363.8C597.1 361.7 603.8 359.4 610 357.5C616.2 355.6 622.3 353.9 628 352.3C633.7 350.7 638.7 349.3 644 347.8"/>
<path class="l" d="M591.6 368.8C598.1 366.7 604.8 364.4 611 362.5C617.2 360.6 623.3 358.9 629 357.3C634.7 355.7 639.7 354.3 645 352.8"/>
<path class="d" d="M591.1 366.4C597.5 364.3 604.2 362 610.5 360.1C616.7 358.2 622.8 356.5 628.5 354.9C634.1 353.3 639.1 351.9 644.5 350.4"/>
<path class="l" d="M571 387.4C570 390.9 569 394.9 568 398C567 401.1 567.7 402.8 565 406C562.3 409.2 557.7 413.7 552 417C546.3 420.3 537.7 422.8 530.6 425.7"/></g>

<g><path class="l" d="M334.4 532.5C333.8 528.8 332.5 525 332.5 521.2C332.5 517.5 333.1 514.1 334.4 510C335.6 505.9 337.5 501.3 340 496.9C342.5 492.5 345.6 487.8 349.4 483.8C353.1 479.7 357.5 475.8 362.5 472.5C367.5 469.2 373.5 466.1 379.4 464C385.3 461.9 391.8 460.6 398 459.8C404.2 458.9 411.6 458.9 416.9 459C422.2 459.1 425.3 459.4 430 460.2C434.7 461 440 462.1 445 464C450 465.9 455 468.3 460 471.6C465 474.9 470.6 479.2 475 483.8C479.4 488.3 483.1 493.8 486.2 498.8C489.4 503.8 491.7 508.8 493.8 513.8C495.8 518.8 497.3 524.4 498.4 528.8C499.5 533.1 499.7 535.6 500.3 540C500.9 544.4 501.4 550 502.2 555C503 560 504.1 565.4 505 570C505.9 574.6 506.6 576.3 507.5 582.5C508.4 588.7 509.5 598.2 510.3 607C511.1 615.8 511.9 627.8 512.2 635C512.5 642.2 512.2 645 512.2 650"/>
<path class="l" d="M356.9 532.5C359.4 530 362.2 528.1 364.4 525C366.6 521.9 368 517.8 370 513.8C372 509.7 373.8 505 376.6 500.6C379.4 496.2 383.3 491.1 386.9 487.5C390.5 483.9 394.2 481 398 479C401.8 477 405.8 476 409.4 475.3C413 474.6 416.1 474.8 419.5 474.6"/>
<path class="l" d="M398 465.6C402.4 466.6 407.2 466.9 411.2 468.5C415.3 470.1 418.8 472.4 422.5 475.3C426.2 478.2 430.6 482.3 433.8 485.6C436.9 488.9 438.1 490.9 441.2 495C444.4 499.1 448.8 504.7 452.5 510C456.2 515.3 460 521.3 463.8 526.9C467.5 532.5 471.9 538.8 475 543.8C478.1 548.8 480.3 552.2 482.5 556.9C484.7 561.6 486.6 567.2 488 571.9C489.4 576.6 490.2 579.1 491 585C491.8 590.9 492.2 598.7 492.5 607C492.8 615.3 492.7 627.2 492.5 635C492.3 642.8 491.8 647.5 491.5 653.8"/>
<path class="t" d="M397.1 466.9C401.5 467.9 406.3 468.2 410.4 469.8C414.4 471.4 417.9 473.8 421.6 476.6C425.4 479.5 429.7 483.6 432.9 486.9C436 490.2 437.2 492.2 440.4 496.3C443.5 500.4 447.9 506 451.6 511.3C455.4 516.6 459.1 522.6 462.9 528.2C466.6 533.8 471 540 474.1 545C477.2 550 479.1 553.8 481.6 558.2"/>
<path class="l" d="M334.4 532.5L356.9 532.5L354 544.7L331.6 544.7Z"/>
<path class="d" d="M336.8 534.8L354 534.8L351.8 542.5L334.5 542.5Z"/>
<path class="l" d="M331.6 544.7C330.6 553.1 329.3 562.5 328.5 570C327.7 577.5 327.2 583.8 326.9 590C326.6 596.2 326.6 601.3 326.5 607"/>
<path class="l" d="M353 544.7C350.9 554.4 348.1 567.1 346.6 573.8C345.1 580.4 344.5 580 343.8 584.4C343 588.8 342.6 595 342 600.3"/>
<path class="t" style="fill:#4b352d" d="M328.2 566L331.4 566.5L330.8 572.6L327.7 572.2Z"/>
<path class="l" d="M331.2 546.5L308.8 588.5"/>
<path class="t" d="M330.8 552L326.6 581"/>
<path class="l" d="M308.8 588.5L314.4 580L325.9 581.4L325 589.8Z"/>
<path class="d" d="M312.5 584.6L325.3 585.6"/>
<path class="d" style="stroke-width:1.4;stroke-dasharray:2.2 0.6" d="M357.8 488.4L374.7 492.2L370 497.8L353.5 495Z"/>
<path class="d" style="stroke-width:1.4;stroke-dasharray:2.2 0.6" d="M357.8 488.4L370 497.8"/>
<path class="d" style="stroke-width:1.4;stroke-dasharray:2.2 0.6" d="M374.7 492.2L353.5 495"/>
<path class="l" style="stroke-width:2.5;stroke-linejoin:miter" d="M441.3 487.2L469.9 481.8L474.8 488L447.3 494Z"/>
<path class="d" style="stroke:#9c8a82;stroke-width:0.5;stroke-dasharray:1.4 1.2" d="M441.3 487.2L469.9 481.8L474.8 488L447.3 494Z"/>
<path class="w" style="stroke-width:2.5;stroke-linejoin:miter" d="M499.5 548.3L525 541.3L529 550L502.8 556.8Z"/>
<path class="d" style="stroke:#9c8a82;stroke-width:0.5;stroke-dasharray:1.4 1.2" d="M499.5 548.3L525 541.3L529 550L502.8 556.8Z"/>
<path class="w" style="stroke-width:2.5;stroke-linejoin:miter" d="M447.2 547L479.8 553.2L480.6 561.2L449.5 556Z"/>
<path class="d" style="stroke:#9c8a82;stroke-width:0.5;stroke-dasharray:1.4 1.2" d="M447.2 547L479.8 553.2L480.6 561.2L449.5 556Z"/>
<path class="w" d="M491 581.2L507.8 579.4L509.7 586.9L492.8 588.8Z"/>
<path class="w" d="M507.8 579.2L521.9 572.8C525 571.6 529 571.8 530.2 575.5C531.4 579.5 528 583.2 523.75 585L510 587.2Z"/>
<path class="k" style="stroke-width:2.2;stroke-linejoin:miter" d="M458.2 501.8L475.7 498.1L480 506L463 509.7Z"/>
<path class="t" d="M458.2 501.8L480 506"/>
<path class="t" d="M475.7 498.1L463 509.7"/>
<path class="t" d="M460.6 505.8L477.9 502.1"/>
<path class="l" d="M463 509.7L467 513"/>
<path class="l" d="M480 506L486 508.5"/>
<g transform="translate(472.8 500.4) rotate(-12) skewX(7.8) scale(0.96 0.8775)"><rect class="w" x="-10.3" y="12.5" width="20.6" height="8.6" rx="1.6"/><rect class="t" x="-8.3" y="14.6" width="16.6" height="4.6" rx="0.8"/><path class="w" d="M-8.6 21.1C-8.2 24 -8.8 27 -8.8 30C-8.8 34 -10.3 35 -10.3 38.5V49.5C-10.3 51 -9.5 52 -8 52H8C9.5 52 10.3 51 10.3 49.5V38.5C10.3 35 8.8 34 8.8 30C8.8 27 8.2 24 8.6 21.1Z"/><path class="t" d="M-8.6 23.5C-6.5 23.5 -6 25 -6 27.5C-6 30 -6.8 31 -8.8 31M8.6 23.5C6.5 23.5 6 25 6 27.5C6 30 6.8 31 8.8 31"/><path class="l" d="M-10.3 38.5H10.3"/><rect class="t" x="-8.2" y="40.6" width="16.4" height="6.2" rx="0.8"/><path class="t" d="M-8 52C-5 49.3 5 49.3 8 52"/></g>
<path class="g" d="M347.5 563.8L353.2 563.9L353.2 574L347.5 573Z"/>
<path class="g" d="M354 564.7L373.8 565.6L373.8 577L354 574Z"/>
<path class="g" d="M374.7 562.8C384.4 565 394.2 566.9 403.8 569.4C413.3 571.9 422.5 575 431.9 577.8C441.3 580.6 451 583.4 460 586.2C469 589.1 480.8 592.9 486 594.7C491.2 596.5 489.7 596.2 491.5 597L491.5 629.4C490 633.8 489.3 637.5 487 642.5C484.7 647.5 480.3 655.4 477.5 659.4C474.7 663.4 472.9 665.6 470 666.5C467.1 667.4 464.8 666.2 460 665C455.2 663.8 448.1 661.9 441.2 659.4C434.4 656.9 425.6 653.4 418.8 650C411.9 646.6 405.6 642.8 400 638.8C394.4 634.7 388.8 630 385 625.6C381.2 621.2 379.4 617.2 377.5 612.5C375.6 607.8 374.5 603.1 373.8 597.5C373 591.9 372.6 584.5 372.8 578.8C373 573 374.1 568.1 374.7 562.8Z"/>
<clipPath id="cc3"><path d="M374.7 562.8C384.4 565 394.2 566.9 403.8 569.4C413.3 571.9 422.5 575 431.9 577.8C441.3 580.6 451 583.4 460 586.2C469 589.1 480.8 592.9 486 594.7C491.2 596.5 489.7 596.2 491.5 597L491.5 629.4C490 633.8 489.3 637.5 487 642.5C484.7 647.5 480.3 655.4 477.5 659.4C474.7 663.4 472.9 665.6 470 666.5C467.1 667.4 464.8 666.2 460 665C455.2 663.8 448.1 661.9 441.2 659.4C434.4 656.9 425.6 653.4 418.8 650C411.9 646.6 405.6 642.8 400 638.8C394.4 634.7 388.8 630 385 625.6C381.2 621.2 379.4 617.2 377.5 612.5C375.6 607.8 374.5 603.1 373.8 597.5C373 591.9 372.6 584.5 372.8 578.8C373 573 374.1 568.1 374.7 562.8Z"/></clipPath>
<g clip-path="url(#cc3)">
<path class="q" d="M385.3 566C384 577.3 382.4 591 381.5 600C380.6 609 380.5 613.3 380 620"/>
<path class="q" d="M405 572C403.7 582 402.3 591.8 401 602C399.7 612.2 398.3 622.7 397 633"/>
<path class="q" d="M427 579C425 590 423.2 601 421 612C418.8 623 416.3 634 414 645"/>
<path class="q" d="M451 587C448.3 598 445.8 609 443 620C440.2 631 437 642 434 653"/>
<path class="q" d="M476 594C473 605.3 470.3 616.8 467 628C463.7 639.2 459.7 650 456 661"/>
<path class="q" d="M493 628C490.7 634.7 488.5 641.8 486 648C483.5 654.2 480.7 659.3 478 665"/>
<path class="q" d="M372 581.6L493 615.5"/>
<path class="q" d="M373 601L493 634.5"/>
<path class="q" d="M380 622L490 650.5"/>
<path class="q" d="M400 644.5L482 665"/>
</g>
<path class="d" d="M377.5 565.8C386.2 567.9 394.5 569.6 403.5 572C412.5 574.4 422.2 577.5 431.5 580.3C440.8 583.1 450.1 585.9 459.5 588.8C468.9 591.7 478.5 594.8 488 597.8"/>
<path class="d" d="M475 657.5C470 659 465.5 662.1 460 662C454.5 661.9 448.7 659.2 442 656.7C435.3 654.2 426.7 650.7 420 647.3C413.3 643.9 407.4 640.4 402 636.5C396.6 632.6 391.1 628 387.5 623.8C383.9 619.6 382 616 380.2 611.5C378.4 607 377.3 602.4 376.5 597C375.7 591.6 375.4 584.2 375.6 579C375.8 573.8 376.9 570.2 377.5 565.8"/>
<path class="t" d="M402.8 618C402.9 621.3 402.5 624.5 403 628C403.5 631.5 404.7 635.2 405.6 638.8"/>
<path class="k" style="stroke-width:3" d="M326.8 608C328.9 606.7 330.5 605.1 333 604C335.5 602.9 339 602.3 342 601.5"/>
<path class="l" d="M342 601.2C346.3 601.8 351 601.4 355 603C359 604.6 362.8 607.4 366.2 610.6C369.7 613.8 371.9 617.9 375.6 622C379.4 626.1 384.1 631.3 388.8 635C393.4 638.7 398.1 641.3 403.8 644.4C409.4 647.5 416.2 650.9 422.5 653.8C428.8 656.6 435.7 659.2 441.2 661.2C446.8 663.3 451.5 664.6 456 666C460.5 667.4 464 668.3 468 669.5"/>
<path class="l" d="M342 605.7C343.8 605.9 345.6 606 347.3 606.2C349.1 606.5 350.9 606.6 352.6 607.1C354.3 607.7 355.9 608.5 357.4 609.4C358.9 610.4 360.2 611.6 361.6 612.8C362.9 614 364.1 615.3 365.2 616.7C366.4 618 367.4 619.5 368.5 620.9C369.6 622.3 370.7 623.7 371.8 625.1C373 626.4 374.2 627.7 375.5 629C376.7 630.3 377.9 631.6 379.2 632.8C380.4 634.1 381.7 635.3 383.1 636.5C384.4 637.7 385.8 638.8 387.2 639.9C388.6 641 390.1 642 391.6 642.9C393.1 643.9 394.7 644.8 396.2 645.7C397.8 646.5 399.3 647.4 400.9 648.3C402.5 649.1 404 649.9 405.6 650.8C407.2 651.6 408.8 652.4 410.4 653.2C412 653.9 413.6 654.7 415.2 655.5C416.9 656.2 418.5 656.9 420.1 657.7C421.7 658.4 423.4 659.1 425 659.8C426.7 660.4 428.3 661.1 430 661.8C431.7 662.4 433.3 663 435 663.7C436.7 664.3 438.3 664.9 440 665.5C441.7 666.2 443.3 666.8 445 667.3C446.7 667.9 448.4 668.5 450.1 669C451.8 669.6 453.5 670.1 455.2 670.7C456.9 671.2 458.6 671.7 460.3 672.2C462 672.7 463.7 673.2 465.5 673.8"/>
<path class="d" d="M342 603.4C343.8 603.6 345.6 603.7 347.4 603.9C349.2 604.1 351 604.2 352.7 604.7C354.4 605.2 356.1 606 357.6 606.9C359.2 607.8 360.6 608.9 362 610C363.4 611.2 364.7 612.4 365.9 613.7C367.1 615 368.2 616.5 369.3 617.9C370.4 619.3 371.4 620.8 372.6 622.2C373.8 623.5 375 624.9 376.2 626.2C377.4 627.5 378.7 628.8 379.9 630.1C381.2 631.4 382.5 632.7 383.8 633.9C385.1 635.1 386.5 636.3 387.9 637.4C389.3 638.5 390.8 639.5 392.3 640.5C393.8 641.5 395.4 642.4 396.9 643.3C398.5 644.2 400 645 401.6 645.9C403.2 646.8 404.8 647.6 406.4 648.5C408 649.3 409.6 650.1 411.2 650.9C412.8 651.7 414.4 652.5 416 653.3C417.7 654 419.3 654.8 421 655.5C422.6 656.3 424.2 657 425.9 657.7C427.6 658.4 429.2 659 430.9 659.7C432.6 660.3 434.3 661 435.9 661.6C437.6 662.3 439.3 662.9 441 663.5C442.7 664.1 444.4 664.7 446.1 665.3C447.8 665.9 449.5 666.4 451.2 666.9C453 667.5 454.7 668 456.4 668.5C458.1 669.1 459.8 669.6 461.6 670.1C463.3 670.6 465 671.1 466.7 671.6"/>
<path class="l" d="M342 601.2C337.6 603.1 332.5 604.2 328.8 607C325 609.8 321.7 614 319.4 618C317.1 622 315.3 626.9 314.7 631.2C314.1 635.6 314.5 640 315.6 644.4C316.7 648.8 318.8 653.1 321.2 657.5C323.8 661.9 327.1 666.5 330.6 670.6C334.1 674.7 337.6 678.3 342 682C346.4 685.7 351.4 689.3 357 693C362.6 696.7 370.1 701.1 375.6 704C381.1 706.9 384.5 708.1 390 710.3C395.5 712.5 402.5 715.3 408.8 717C415 718.7 421.9 720 427.5 720.6C433.1 721.2 438.1 721.1 442.5 720.6C446.9 720.1 450.8 719.4 453.8 717.8C456.7 716.2 458.1 713.3 460 711C461.9 708.7 463.2 707.5 465 703.8C466.8 700 468.7 693.4 470.6 688.8C472.5 684.1 474.2 679.7 476.2 675.6C478.3 671.5 480.5 667.6 483 664C485.5 660.4 488.7 657.2 491.5 653.8"/>
<path class="l" d="M342.9 605.7C340.6 606.6 338.3 607.3 336.2 608.3C334 609.4 331.8 610.5 330.1 612C328.3 613.6 326.8 615.5 325.4 617.5C324 619.5 322.8 621.6 321.9 623.8C321 626 320.2 628.3 319.8 630.6C319.4 633 319.3 635.4 319.5 637.8C319.7 640.1 320.3 642.5 321 644.8C321.7 647.1 322.7 649.3 323.8 651.4C324.9 653.5 326.1 655.6 327.4 657.6C328.7 659.7 330 661.6 331.5 663.5C332.9 665.4 334.5 667.3 336.1 669C337.7 670.8 339.5 672.4 341.2 674.1C343 675.7 344.8 677.2 346.7 678.8C348.5 680.3 350.4 681.7 352.4 683.2C354.3 684.6 356.2 686 358.2 687.3C360.2 688.7 362.2 690 364.3 691.2C366.3 692.5 368.3 693.8 370.4 695C372.5 696.2 374.5 697.4 376.6 698.5C378.8 699.7 380.9 700.8 383.1 701.8C385.2 702.8 387.5 703.7 389.7 704.6C391.9 705.5 394.1 706.4 396.4 707.2C398.6 708.1 400.8 708.9 403.1 709.7C405.4 710.5 407.7 711.3 410 711.9C412.3 712.6 414.6 713.2 416.9 713.7C419.3 714.2 421.6 714.7 424 715C426.4 715.4 428.8 715.7 431.1 715.8C433.5 715.9 435.9 716 438.3 715.8C440.7 715.7 443.2 715.6 445.5 714.9C447.7 714.3 450.1 713.4 451.9 712C453.7 710.6 455 708.4 456.4 706.4C457.8 704.5 459.2 702.5 460.3 700.4C461.4 698.3 462.2 696 463.1 693.8C463.9 691.6 464.7 689.3 465.6 687.1C466.5 684.8 467.3 682.6 468.3 680.4C469.2 678.2 470.1 676 471.1 673.8C472.2 671.6 473.2 669.5 474.4 667.4C475.6 665.3 476.8 663.2 478.2 661.3C479.5 659.3 481.1 657.5 482.6 655.6C484.1 653.7 485.7 652 487.2 650.1"/>
<path class="d" d="M342.4 603.4C340.1 604.3 337.7 605 335.5 606.1C333.2 607.1 331 608.2 329 609.8C327.1 611.3 325.5 613.3 324 615.3C322.6 617.2 321.3 619.4 320.2 621.6C319.2 623.8 318.3 626.2 317.7 628.6C317.2 631 316.9 633.5 317 636C317 638.4 317.4 640.9 318 643.3C318.6 645.7 319.5 648 320.5 650.3C321.4 652.6 322.6 654.8 323.9 656.9C325.1 659 326.5 661.1 328 663.1C329.4 665.1 331 667.1 332.6 668.9C334.2 670.8 335.9 672.6 337.7 674.4C339.4 676.1 341.3 677.8 343.2 679.4C345 681 347 682.6 348.9 684.1C350.9 685.6 352.9 687 355 688.4C357 689.8 359.1 691.2 361.2 692.5C363.3 693.9 365.4 695.2 367.5 696.4C369.7 697.7 371.8 698.9 374 700.1C376.2 701.3 378.4 702.5 380.6 703.6C382.8 704.6 385.1 705.6 387.4 706.5C389.7 707.5 392 708.4 394.3 709.2C396.7 710.1 399 711.1 401.3 711.9C403.6 712.7 406 713.5 408.4 714.2C410.8 714.9 413.2 715.5 415.6 716.1C418 716.6 420.4 717.1 422.9 717.4C425.3 717.8 427.8 718.2 430.3 718.3C432.8 718.5 435.2 718.5 437.7 718.4C440.2 718.3 442.7 718.2 445.1 717.7C447.5 717.1 450 716.5 452.1 715.3C454.1 714 455.6 712 457.2 710.1C458.8 708.2 460.3 706.2 461.6 704.1C462.8 701.9 463.7 699.6 464.7 697.3C465.6 695 466.4 692.7 467.2 690.3C468.1 688 469 685.7 469.9 683.4C470.9 681.1 471.8 678.8 472.9 676.5C473.9 674.3 475 672.1 476.2 669.9C477.4 667.7 478.6 665.6 480 663.5C481.4 661.5 483 659.5 484.5 657.6C486.1 655.7 487.8 653.8 489.4 652"/>
<path class="d" style="stroke-width:1.1;stroke-dasharray:2.6 1.4" d="M319.4 646.2L377.5 628.4"/>
<path class="d" style="stroke-width:1.1;stroke-dasharray:2.6 1.4" d="M355 667.8L402 645.3"/>
<path class="l" d="M331.6 667L355 668.5L390 672.5L417 676.2L440.6 717"/>
<path class="d" d="M333 669.5L355 671L390 675L415.5 678.5L438 716.5"/>
<path class="d" style="stroke-width:1.1;stroke-dasharray:2.6 1.4" d="M435 703.8L470 670.6"/>
<path class="l" d="M315 636C315.3 640 315.6 644.1 316 648C316.4 651.9 316.6 654.1 317.5 659.4C318.4 664.7 320.1 675 321.2 680C322.4 685 323.6 686.3 324.7 689.5"/>
<path class="l" d="M349.2 688L351 731.5"/>
<path class="d" d="M351.5 690L353.2 733.5"/>
<path class="l" d="M393.6 713L394.6 752.3"/>
<path class="d" d="M396 714L397 752.5"/>
<path class="l" d="M333 709.4C335.5 713.8 337.1 718.1 340.6 722.5C344.1 726.9 348.4 731.6 353.8 735.6C359.1 739.6 365.9 743.7 372.5 746.5C379.1 749.3 387.8 750.6 393.6 752.3C399.4 754 403.1 755.9 407.5 756.5C411.9 757.1 416.2 756.3 420 756C423.8 755.7 427.2 754.9 430 754.5C432.8 754.1 434.7 753.9 437 753.6"/>
<path class="l" d="M453.8 717.8C453 719.9 452.5 721.5 451.5 724C450.5 726.5 449.3 730.2 448 733C446.7 735.8 445.1 738.8 443.5 741C441.9 743.2 440.2 744.7 438.5 746.5"/>
<path class="k" style="stroke-width:3.4" d="M491.5 653L512.2 650.3"/>
<path class="k" style="stroke-width:3" d="M491.5 676.3L510.3 672.8"/>
<path class="l" d="M491.5 653.8L491.5 676"/>
<path class="l" d="M496.2 662.2L506.6 660.3L507.5 670.6L497.2 672.5Z"/>
<path class="t" d="M498.2 664.2L504.8 663L505.6 671"/>
<path class="l" d="M512.2 650C514.4 651.9 516.7 653.1 518.8 655.6C520.8 658.1 523.1 661.6 524.4 665C525.7 668.4 526.4 671.8 526.5 676C526.6 680.2 525.9 686 525.2 690C524.5 694 523.5 697 522.5 700C521.5 703 521.1 703.9 519 708C516.9 712.1 514 720.1 510 724.4C506 728.7 500.3 730.9 495 733.8C489.7 736.6 481.8 739.8 478 741.2C474.2 742.7 474.3 741.9 472.5 742.2"/>
<path class="t" d="M509.5 653C511.5 654.8 513.8 656.2 515.5 658.5C517.2 660.8 518.8 663.5 520 666.5C521.2 669.5 522.2 672.5 522.5 676.5C522.8 680.5 522 685.8 521.7 690.5"/>
<path class="d" d="M510.8 651.5C512.9 653.3 515.2 654.6 517.1 657C519 659.4 520.9 662.5 522.2 665.7C523.5 668.9 524.5 672.2 524.8 676.4C525.1 680.6 524.3 686.1 524 691"/>
<path class="l" d="M502.5 688.8C501.9 695 501.9 701.9 500.6 707.5C499.4 713.1 497.8 718.1 495 722.5C492.2 726.9 487.2 730.7 483.8 733.8C480.2 736.8 477.2 738.6 474 741"/>
<path class="l" d="M472.5 742.2C469 743.8 465.1 745.6 462 747C458.9 748.4 456.5 749.4 453.8 750.6"/>
<path class="l" d="M478 681.2C483.7 679.3 489.7 677.2 495 675.3C500.3 673.4 505.1 671.7 510 670C514.9 668.3 519.6 666.7 524.4 665"/>
<path class="l" d="M479 686.2C484.7 684.3 490.7 682.2 496 680.3C501.3 678.4 506.1 676.7 511 675C515.9 673.3 520.6 671.7 525.4 670"/>
<path class="d" d="M478.4 683.9C484.1 681.9 490.1 679.8 495.4 677.9C500.8 676 505.5 674.3 510.4 672.6C515.4 670.9 520.1 669.3 524.9 667.6"/>
<path class="l" d="M472.8 695C478.5 693.2 484.1 691.2 490 689.5C495.9 687.8 502 686.2 508 684.6C514 683 520.2 681.5 526.2 680"/>
<path class="l" d="M473.8 700C479.5 698.2 485.1 696.2 491 694.5C496.9 692.8 503 691.2 509 689.6C515 688 521.2 686.5 527.2 685"/>
<path class="d" d="M473.2 697.6C479 695.8 484.6 693.8 490.4 692.1C496.3 690.4 502.4 688.8 508.4 687.2C514.5 685.6 520.6 684.1 526.7 682.6"/>
<path class="l" d="M503.8 691C503.5 694 503.3 696.8 503 700C502.7 703.2 502.3 706.7 501.9 710"/>
<path class="g" d="M510.3 600.3L531.9 607.8L530 614.4L511.2 614.4Z"/>
<path class="g" d="M511.2 614.4L546.9 609.7L546 619L511.2 624.7Z"/>
<path class="w" d="M492.5 616.2L510.3 614.4L511.2 624.7L493.4 625.6Z"/>
<path class="t" d="M497 616L497.8 625.2"/>
<path class="t" d="M500 617.2L508.5 616.3L509.2 623L500.7 623.8Z"/>
<path class="t" d="M516 613.8L516.6 623.8"/>
<path class="t" d="M519.5 613.4L520 623.3"/>
<path class="t" d="M532 611.6L532.6 621.2"/>
<path class="t" d="M513 625L514.5 640L512.5 650"/>
<path class="g" style="stroke:none" d="M276.9 686.9C279.4 685.3 281 682.9 284.4 682.2C287.8 681.6 292.2 681.9 297.5 683C302.8 684.1 310 686.7 316.2 688.8C322.5 690.8 329.5 693.2 335 695.3C340.5 697.4 344.3 699.3 349 701.3L350 716.5C346.2 715.1 342.8 713.9 338.8 712.2C334.7 710.6 330.9 708.6 325.6 706.6C320.3 704.6 312.8 701.7 306.9 700C301 698.3 294.9 696.6 290 696.2C285.1 695.9 281.9 697.4 277.8 698L277.8 698C279.1 701.2 279.9 704 281.6 707.5C283.3 711 285.4 715 288 718.8C290.6 722.5 293.4 726.2 297.5 730C301.6 733.8 306.2 737.8 312.5 741.2C318.8 744.7 327.5 747.7 335 750.6C342.5 753.5 353.2 757 357.5 758.5C361.8 760 359.8 759.2 361 759.5L359 781.2C357.2 780.6 357.8 781 353.8 779.5C349.8 778 341.2 774.8 335 772.2C328.8 769.6 322.5 767 316.2 763.8C310 760.5 302.5 756.2 297.5 752.5C292.5 748.8 290 745.6 286.2 741.2C282.5 736.9 277.7 731.2 275 726.2C272.3 721.2 270.9 715.6 270.3 711.2C269.7 706.9 270.1 704.1 271.2 700C272.4 695.9 275 691.3 276.9 686.9Z"/>
<path class="l" d="M276.9 686.9C279.4 685.3 281 682.9 284.4 682.2C287.8 681.6 292.2 681.9 297.5 683C302.8 684.1 310 686.7 316.2 688.8C322.5 690.8 329.5 693.2 335 695.3C340.5 697.4 344.3 699.3 349 701.3"/>
<path class="l" d="M350 716.5C346.2 715.1 342.8 713.9 338.8 712.2C334.7 710.6 330.9 708.6 325.6 706.6C320.3 704.6 312.8 701.7 306.9 700C301 698.3 294.9 696.6 290 696.2C285.1 695.9 281.9 697.4 277.8 698"/>
<path class="l" d="M276.9 686.9C275 691.3 272.4 695.9 271.2 700C270.1 704.1 269.7 706.9 270.3 711.2C270.9 715.6 272.3 721.2 275 726.2C277.7 731.2 282.5 736.9 286.2 741.2C290 745.6 292.5 748.8 297.5 752.5C302.5 756.2 310 760.5 316.2 763.8C322.5 767 328.8 769.6 335 772.2C341.2 774.8 349.8 778 353.8 779.5C357.8 781 357.2 780.6 359 781.2"/>
<path class="l" d="M277.8 698C279.1 701.2 279.9 704 281.6 707.5C283.3 711 285.4 715 288 718.8C290.6 722.5 293.4 726.2 297.5 730C301.6 733.8 306.2 737.8 312.5 741.2C318.8 744.7 327.5 747.7 335 750.6C342.5 753.5 353.2 757 357.5 758.5C361.8 760 359.8 759.2 361 759.5"/>
<path class="g" d="M289 733.8L296.6 736.6L292.8 774L283.4 770.3Z"/>
<path class="d" d="M290.2 736.5L287 752"/>
<path class="d" d="M294.6 738L291.6 753.5"/>
<path class="t" d="M286.6 752L292 754"/>
<path class="g" style="stroke:none" d="M396.2 722C401.8 724.2 407.4 726 413 728.6C418.6 731.2 424.9 734.8 430 737.6C435.1 740.4 439.9 743.4 443.5 745.5C447.1 747.6 449.7 748.5 451.4 750C453.1 751.5 453.4 752.6 453.6 754.5C453.8 756.4 453.3 758.8 452.5 761.2C451.7 763.7 450.9 766.4 449 769C447.1 771.6 444.4 774.9 441.2 777C438.1 779.1 433.8 780.4 430 781.5C426.2 782.6 422.9 783.1 418.8 783.8C414.6 784.4 409.6 784.8 405 785.3L407.5 767.6C413.1 767.2 419.7 767 424.4 766.3C429.1 765.6 432 764.5 435.6 763.5C439.2 762.5 442.4 761.2 445.8 760L445.8 760C443.5 758.5 441.6 757.1 439 755.6C436.4 754.1 434.3 753.3 430 751C425.7 748.7 418.6 744.6 413 742C407.4 739.4 401.8 737.6 396.2 735.4Z"/>
<path class="l" d="M396.2 722C401.8 724.2 407.4 726 413 728.6C418.6 731.2 424.9 734.8 430 737.6C435.1 740.4 439.9 743.4 443.5 745.5C447.1 747.6 449.7 748.5 451.4 750C453.1 751.5 453.4 752.6 453.6 754.5C453.8 756.4 453.3 758.8 452.5 761.2C451.7 763.7 450.9 766.4 449 769C447.1 771.6 444.4 774.9 441.2 777C438.1 779.1 433.8 780.4 430 781.5C426.2 782.6 422.9 783.1 418.8 783.8C414.6 784.4 409.6 784.8 405 785.3"/>
<path class="l" d="M396.2 735.4C401.8 737.6 407.4 739.4 413 742C418.6 744.6 425.7 748.7 430 751C434.3 753.3 436.4 754.1 439 755.6C441.6 757.1 443.5 758.5 445.8 760"/>
<path class="l" d="M407.5 767.6C413.1 767.2 419.7 767 424.4 766.3C429.1 765.6 432 764.5 435.6 763.5C439.2 762.5 442.4 761.2 445.8 760"/>
<path class="t" d="M445.8 760L451 755.5"/>
<path class="l" d="M412.3 769L420.4 770.3L418 782.8L410.7 781.7Z"/>
<path class="t" d="M414.5 770.5L412.8 781.2"/>
<path class="g" d="M362 759.2C380 761.5 390 763 405 765C407.5 765.5 408 767 407.6 769L404.5 786C404 788 402.5 788.5 400.5 788.2C385 786 375 784 359.5 781.3C357.5 781 357 779.5 357.5 777.5L360 761C360.3 759.5 360.8 759 362 759.2Z"/>
<path class="l" d="M364.4 761.7L370.9 762.5L367.6 779.6L361 778.8Z"/>
<path class="l" d="M398.5 766.6L404 767.4L401 785.2L396 784.4Z"/>
<path class="t" d="M373.5 763L370.5 781.5"/>
<path class="t" d="M395.5 766.2L392.5 784"/>
<path class="t" d="M381 762.2C382.5 764.5 386.5 765 388.5 763.3M378 783C379.5 780.8 384 781.5 385 784"/></g>

<g fill="none" stroke="#7d7d7d" stroke-width="0.8">
<path d="M9 23.5H220M579 23.5H791"/>
<path d="M387 120.5H355.5L344 140M458 120.5H491.5L500.6 140"/>
<path d="M783.5 172.5H623.5V218"/>
<path d="M773 274H661L637 247.5"/>
<path d="M35.5 271.5H161.5L182 330"/>
<path d="M26 406H176L212.5 388"/>
<path d="M385 431H337L328 412M429.5 431H476L484 414.5"/>
<path d="M243 578H382L392 595.5"/>
<path d="M226.5 657H273L300 691"/>
<path d="M678.5 658.5H536.5L505 620.5"/>
<path d="M675 735.5H387"/>
</g>
<g fill="#1a1a1a">
<circle cx="623.7" cy="218" r="2.8"/><circle cx="637" cy="247.5" r="2.8"/>
<circle cx="182.2" cy="330.3" r="2.8"/><circle cx="212.5" cy="388" r="2.8"/>
<circle cx="505" cy="620.5" r="2.6"/><circle cx="387" cy="735.3" r="2.6"/>
</g>

<g fill="#231815" font-family="'Liberation Serif','Noto Serif CJK SC',serif" font-size="14">
<text x="397" y="126" textLength="54" lengthAdjust="spacingAndGlyphs">肩パット</text>
<text x="637.5" y="161" textLength="127.5" lengthAdjust="spacingAndGlyphs">二重ロックベル クロ</text>
<text x="670.5" y="260.5" textLength="95.5" lengthAdjust="spacingAndGlyphs">ひも結束バンド</text>
<text x="40.4" y="241" textLength="98" lengthAdjust="spacingAndGlyphs">サブファスナー</text>
<text x="40" y="265" textLength="47.6" lengthAdjust="spacingAndGlyphs">ポケット</text>
<text x="32.4" y="370" textLength="110.8" lengthAdjust="spacingAndGlyphs">メインファスナー</text>
<text x="32.4" y="394" textLength="49.5" lengthAdjust="spacingAndGlyphs">ポケット</text>
<text x="392.5" y="436" font-size="16" textLength="33.5" lengthAdjust="spacingAndGlyphs">本体</text>
<text x="121.5" y="582" textLength="112.5" lengthAdjust="spacingAndGlyphs">腰サポート用クロス</text>
<text x="140" y="662" textLength="81" lengthAdjust="spacingAndGlyphs">ウエストベルト</text>
<text x="546" y="651" textLength="125" lengthAdjust="spacingAndGlyphs">腰サポート用バックル</text>
<text x="538" y="729.5" textLength="133" lengthAdjust="spacingAndGlyphs">ウエストベルト用通し穴</text>
</g>
<text x="401.5" y="88" text-anchor="middle" font-family="'Liberation Sans','Noto Sans CJK JP',sans-serif" font-size="38" font-weight="bold" fill="#4b3c36">各部名称</text>
<text x="327" y="32.3" font-family="'Liberation Serif',serif" font-size="23" letter-spacing="4.9" fill="#62554f">Part names</text>

<g transform="translate(472 334) rotate(15.5) skewX(-10)" fill="#fff"><text x="0" y="0" font-family="'Liberation Sans','Noto Sans CJK JP',sans-serif" font-size="15.5" textLength="97" lengthAdjust="spacing">おしりパッド</text></g>

</svg>
</body></html>
